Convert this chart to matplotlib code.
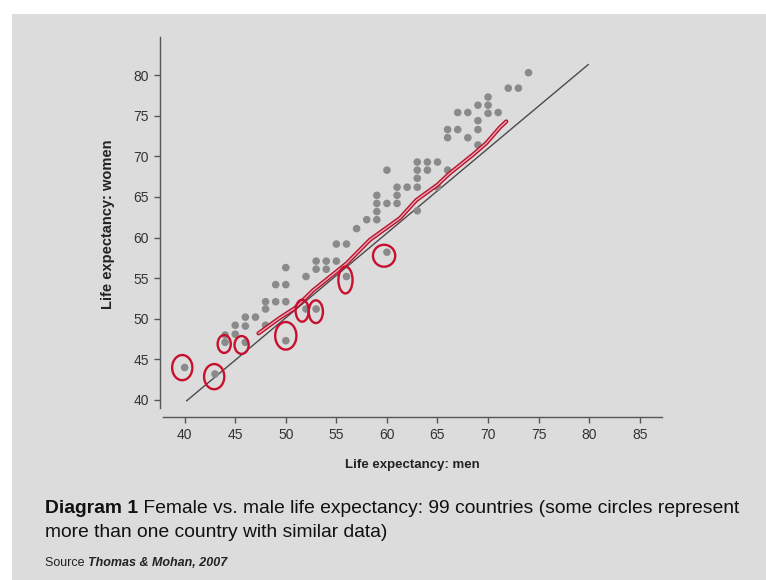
import matplotlib
matplotlib.use('Agg')
import matplotlib.pyplot as plt
from matplotlib.patches import Ellipse, Rectangle
from matplotlib.text import Annotation

plt.rcParams['font.family'] = ['Liberation Sans', 'DejaVu Sans']

# ---- data ----
men = [40, 43, 44, 44, 45, 45, 46, 46, 46, 47,
       48, 48, 48, 49, 49, 50, 50, 50, 50, 52,
       52, 53, 53, 53, 54, 54, 55, 55, 56, 56,
       57, 58, 59, 59, 59, 59, 60, 60, 60, 61,
       61, 61, 62, 63, 63, 63, 63, 63, 64, 64,
       65, 65, 66, 66, 66, 67, 67, 68, 68, 69,
       69, 69, 69, 70, 70, 70, 71, 72, 73, 74]
women = [44.0, 43.2, 48.0, 47.1, 49.2, 48.1, 50.2, 49.1, 47.1, 50.2,
         52.1, 51.2, 49.2, 54.2, 52.1, 56.3, 54.2, 52.1, 47.3, 55.2,
         51.2, 57.1, 56.1, 51.2, 57.1, 56.1, 57.1, 59.2, 59.2, 55.2,
         61.1, 62.2, 62.2, 63.2, 64.2, 65.2, 68.3, 64.2, 58.2, 66.2,
         65.2, 64.2, 66.2, 69.3, 68.3, 67.3, 66.2, 63.3, 69.3, 68.3,
         69.3, 66.2, 68.3, 73.3, 72.3, 75.4, 73.3, 75.4, 72.3, 76.3,
         74.4, 73.3, 71.4, 77.3, 76.3, 75.3, 75.4, 78.4, 78.4, 80.3]

# reference (black) line end points
ref_men = [40.2, 79.9]
ref_women = [39.9, 81.3]

# hand-drawn red trend line
trend_men = [47.3, 49.4, 50.9, 52.7, 56.0, 58.3, 61.3, 62.9, 65.0, 66.2, 68.5, 69.8, 71.2, 71.8]
trend_women = [48.2, 50.1, 51.3, 53.5, 56.8, 59.7, 62.4, 64.6, 66.5, 67.9, 70.2, 71.6, 73.6, 74.3]

# hand-drawn red circles (centre, width, height in data units)
circ_x = [39.76, 42.92, 43.91, 45.63, 50.0, 51.62, 52.97, 55.9, 59.72]
circ_y = [43.98, 42.87, 46.89, 46.77, 47.9, 50.99, 50.87, 54.77, 57.76]
circ_w = [2.0, 2.0, 1.3, 1.4, 2.1, 1.3, 1.4, 1.4, 2.2]
circ_h = [3.1, 3.1, 2.2, 2.2, 3.4, 2.7, 2.8, 3.3, 2.7]

xticks = [40, 45, 50, 55, 60, 65, 70, 75, 80, 85]
yticks = [40, 45, 50, 55, 60, 65, 70, 75, 80]

x_label = 'Life expectancy: men'
y_label = 'Life expectancy: women'
cap_bold = 'Diagram 1'
cap_line1 = ' Female vs. male life expectancy: 99 countries (some circles represent'
cap_line2 = 'more than one country with similar data)'
src_plain = 'Source '
src_bold = 'Thomas & Mohan, 2007'

# ---- figure ----
W, H = 766, 580
fig = plt.figure(figsize=(W / 100, H / 100), dpi=100)
fig.patch.set_facecolor('white')
fig.add_artist(Rectangle((12 / W, 0), 1 - 12 / W, 1 - 14 / H, transform=fig.transFigure,
                         facecolor='#dcdcdc', edgecolor='none', zorder=-10))

ax = fig.add_axes([160 / W, (H - 417) / H, (662 - 160) / W, (417 - 37) / H])
ax.set_facecolor('none')
ax.set_xlim(37.56, 87.2)
ax.set_ylim(37.9, 84.7)

ax.scatter(men, women, s=30, color='#8a8a8a', edgecolors='none', zorder=3)
ax.plot(ref_men, ref_women, color='#4a4a4a', lw=1.0, zorder=2)
ax.plot(trend_men, trend_women, color='#b5122e', lw=3.0, solid_capstyle='round', zorder=4)
ax.plot(trend_men, trend_women, color='#f2a6b4', lw=1.0, solid_capstyle='round', zorder=5)
for cx, cy, cw, ch in zip(circ_x, circ_y, circ_w, circ_h):
    ax.add_patch(Ellipse((cx, cy), cw, ch, fill=False, edgecolor='#c8102e', lw=1.7, zorder=6))

for s in ['top', 'right']:
    ax.spines[s].set_visible(False)
for s in ['left', 'bottom']:
    ax.spines[s].set_color('#555555')
    ax.spines[s].set_linewidth(1.0)
ax.spines['left'].set_bounds(39.0, 84.7)
ax.spines['bottom'].set_bounds(37.9, 87.2)

ax.set_xticks(xticks)
ax.set_yticks(yticks)
ax.tick_params(direction='out', length=4, width=1, color='#555555',
               labelsize=10, labelcolor='#333333', pad=4)

fig.text(412 / W, 1 - 465 / H, x_label, ha='center', va='center',
         fontsize=9.5, fontweight='bold', color='#222222')
fig.text(108 / W, 1 - 224 / H, y_label, ha='center', va='center', rotation=90,
         fontsize=10.5, fontweight='bold', color='#222222')

t1 = fig.text(45 / W, 1 - 513 / H, cap_bold, ha='left', va='baseline',
              fontsize=13.9, fontweight='bold', color='#111111')
fig.add_artist(Annotation(cap_line1, xy=(1, 0), xycoords=t1,
                          ha='left', va='bottom', fontsize=13.9, color='#111111'))
fig.text(45 / W, 1 - 537 / H, cap_line2, ha='left', va='baseline',
         fontsize=13.9, color='#111111')

s1 = fig.text(45 / W, 1 - 566 / H, src_plain, ha='left', va='baseline',
              fontsize=9, color='#222222')
fig.add_artist(Annotation(src_bold, xy=(1, 0), xycoords=s1,
                          ha='left', va='bottom', fontsize=9,
                          fontweight='bold', fontstyle='italic', color='#222222'))

fig.savefig('out.png', dpi=100)
